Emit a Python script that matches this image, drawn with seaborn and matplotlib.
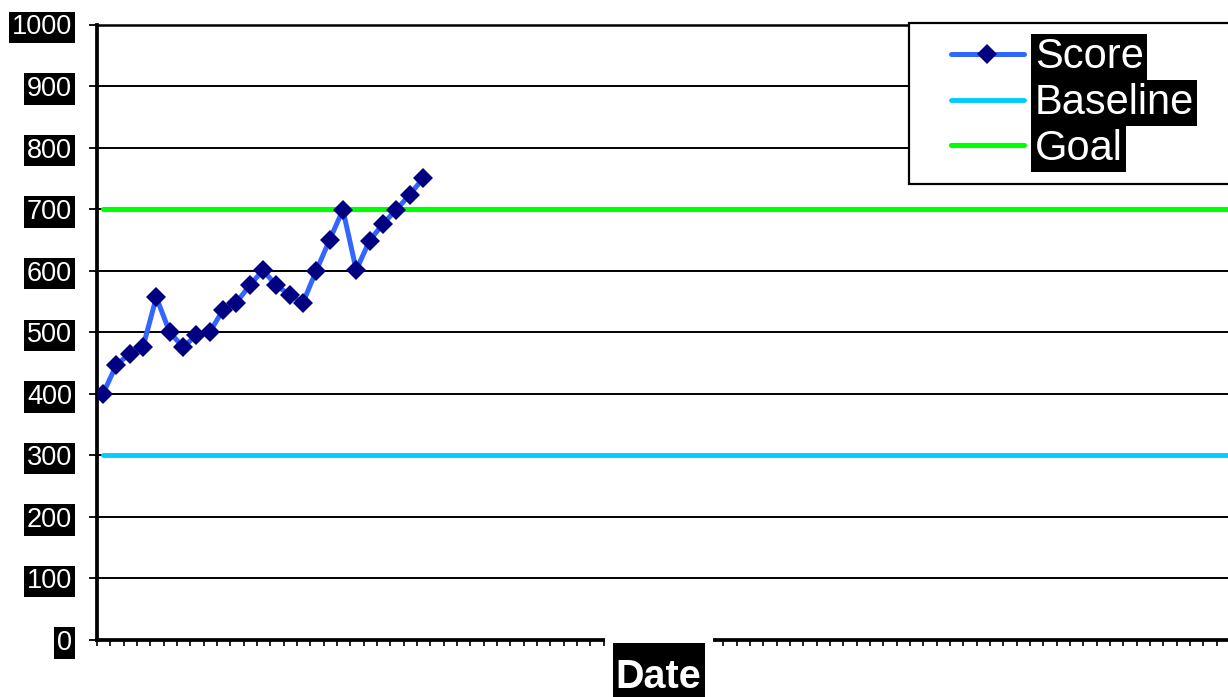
import numpy as np
import matplotlib
matplotlib.use("Agg")
import matplotlib.pyplot as plt
from matplotlib.lines import Line2D
from matplotlib.legend_handler import HandlerLine2D
import seaborn as sns

# Progress-monitoring data
scores = [400, 447, 465, 476, 557, 500, 476, 495, 500, 536, 548, 576,
          601, 576, 561, 548, 600, 650, 699, 601, 649, 676, 699, 723, 750]
baseline_value = 300
goal_value = 700
n_dates = 86
y_ticks = [0, 100, 200, 300, 400, 500, 600, 700, 800, 900, 1000]
series_labels = ["Score", "Baseline", "Goal"]
x_title = "Date"

sns.set_style("white")
plt.rcParams["font.family"] = ["Liberation Sans", "DejaVu Sans"]

W, H = 1228, 697
fig = plt.figure(figsize=(W / 100, H / 100), dpi=100)
ax = fig.add_axes([97 / W, 57 / H, 1131 / W, 615.5 / H])

# category centres on the date axis
score_x = np.arange(len(scores)) + 0.45
date_x = np.arange(n_dates) + 0.45
baseline = [baseline_value] * n_dates
goal = [goal_value] * n_dates

sns.lineplot(x=date_x, y=baseline, ax=ax, color="#00CCFF", linewidth=3.5,
             label=series_labels[1], zorder=3)
sns.lineplot(x=date_x, y=goal, ax=ax, color="#00FF00", linewidth=3.7,
             label=series_labels[2], zorder=3)
sns.lineplot(x=score_x, y=scores, ax=ax, color="#3366FF", linewidth=3.6,
             marker="D", markersize=10.5, markeredgewidth=0,
             markerfacecolor="#000080", label=series_labels[0], zorder=4)

ax.set_xlim(0, 84.85)
ax.set_ylim(0, 1000)
ax.set_xticks(np.arange(0, 85))
ax.set_yticks(y_ticks)
ax.set_yticklabels([str(v) for v in y_ticks])
ax.set_xlabel("")
ax.set_ylabel("")

ax.set_axisbelow(True)
ax.yaxis.grid(True, color="black", linewidth=1.4)
ax.xaxis.grid(False)

for side in ("left", "bottom"):
    ax.spines[side].set_linewidth(2.7)
    ax.spines[side].set_color("black")
ax.spines["top"].set_linewidth(1.8)
ax.spines["top"].set_color("black")
ax.spines["right"].set_visible(False)

ax.tick_params(axis="y", direction="out", length=6, width=1.3, color="black",
               pad=12, labelsize=19.5, labelcolor="white", left=True)
ax.tick_params(axis="x", direction="out", length=4, width=1.2, color="black",
               bottom=True, labelbottom=False)
for lbl in ax.get_yticklabels():
    lbl.set_bbox(dict(facecolor="black", edgecolor="none", pad=2))

# legend in the upper right, running past the figure edge
handles, labels = ax.get_legend_handles_labels()
order = [labels.index(s) for s in series_labels]
leg = ax.legend([handles[i] for i in order], [labels[i] for i in order],
                loc="upper left",
                bbox_to_anchor=(909.3 / W, 0.0, 0.4, 1 - 22.7 / H),
                bbox_transform=fig.transFigure, mode="expand",
                borderaxespad=0, frameon=True, fancybox=False, framealpha=1,
                edgecolor="black", fontsize=30, borderpad=0.35,
                handlelength=2.4, handletextpad=0.26, labelspacing=0.14,
                handler_map={Line2D: HandlerLine2D(xpad=0.64)})
leg.get_frame().set_linewidth(1.6)
for t in leg.get_texts():
    t.set_color("white")
    t.set_bbox(dict(facecolor="black", edgecolor="none", pad=2.5))

# axis title with a white surround that breaks the axis line
fig.text(658.5 / W, 8.7 / H, x_title, ha="center", va="baseline",
         fontsize=28.5, fontweight="bold", color="white", zorder=5,
         bbox=dict(boxstyle="square,pad=0.18", facecolor="black",
                   edgecolor="white", linewidth=5.76, mutation_aspect=2.7))

fig.savefig("out.png", dpi=100)
